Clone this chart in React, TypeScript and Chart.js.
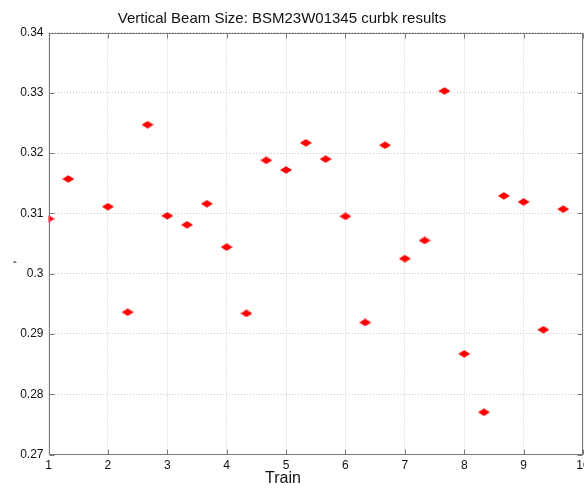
import { useEffect, useRef } from "react";
import { Chart, registerables } from "chart.js";

Chart.register(...registerables);

const trainX = [
  1, 1.333, 2, 2.333, 2.667, 3, 3.333, 3.667, 4, 4.333, 4.667, 5, 5.333,
  5.667, 6, 6.333, 6.667, 7, 7.333, 7.667, 8, 8.333, 8.667, 9, 9.333, 9.667,
];
const beamSize = [
  0.3091, 0.3157, 0.3111, 0.2936, 0.3247, 0.3096, 0.3081, 0.3116, 0.3044,
  0.2934, 0.3188, 0.3172, 0.3217, 0.319, 0.3095, 0.2919, 0.3213, 0.3025,
  0.3055, 0.3303, 0.2867, 0.277, 0.3129, 0.3119, 0.2907, 0.3107,
];
const xTicks = [1, 2, 3, 4, 5, 6, 7, 8, 9, 10];
const yTicks = [0.27, 0.28, 0.29, 0.3, 0.31, 0.32, 0.33, 0.34];
const titleText = "Vertical Beam Size: BSM23W01345 curbk results";
const xLabel = "Train";
const yLabel = ",";

const FONT = "'Liberation Sans', Arial, Helvetica, sans-serif";

function makeMarker(): HTMLCanvasElement {
  const c = document.createElement("canvas");
  c.width = 12;
  c.height = 8;
  const g = c.getContext("2d")!;
  g.fillStyle = "#ff0000";
  g.beginPath();
  g.moveTo(0, 4);
  g.lineTo(6, 0.3);
  g.lineTo(12, 4);
  g.lineTo(6, 7.7);
  g.closePath();
  g.fill();
  return c;
}

const framePlugin = {
  id: "frame",
  afterDraw(chart: any) {
    const { ctx, chartArea } = chart;
    const { left, right, top, bottom } = chartArea;
    const xs = chart.scales.x;
    const ys = chart.scales.y;
    ctx.save();
    ctx.strokeStyle = "#7a7a7a";
    ctx.lineWidth = 1;
    const L = Math.round(left) + 0.5;
    const R = Math.round(right) - 0.5;
    const T = Math.round(top) + 0.5;
    const B = Math.round(bottom) - 0.5;
    ctx.strokeRect(L, T, R - L, B - T);
    ctx.beginPath();
    xTicks.forEach((v) => {
      const px = Math.round(xs.getPixelForValue(v)) + 0.5;
      ctx.moveTo(px, B);
      ctx.lineTo(px, B - 5);
      ctx.moveTo(px, T);
      ctx.lineTo(px, T + 5);
    });
    yTicks.forEach((v) => {
      const py = Math.round(ys.getPixelForValue(v)) + 0.5;
      ctx.moveTo(L, py);
      ctx.lineTo(L + 5, py);
      ctx.moveTo(R, py);
      ctx.lineTo(R - 5, py);
    });
    ctx.stroke();

    ctx.fillStyle = "#111";
    ctx.textAlign = "center";
    ctx.textBaseline = "alphabetic";
    ctx.font = `15px ${FONT}`;
    ctx.fillText(titleText, 282, 23);
    ctx.font = `16px ${FONT}`;
    ctx.fillText(xLabel, 283, 483);

    ctx.save();
    ctx.translate(15, 262);
    ctx.rotate(-Math.PI / 2);
    ctx.font = `12px ${FONT}`;
    ctx.fillText(yLabel, 0, 0);
    ctx.restore();
    ctx.restore();
  },
};

export default function App() {
  const ref = useRef<HTMLCanvasElement | null>(null);

  useEffect(() => {
    if (!ref.current) return;
    const marker = makeMarker();
    const chart = new Chart(ref.current, {
      type: "scatter",
      data: {
        datasets: [
          {
            data: trainX.map((x, i) => ({ x, y: beamSize[i] })),
            pointStyle: marker as any,
            pointRadius: 6,
            backgroundColor: "#ff0000",
            borderColor: "#ff0000",
          },
        ],
      },
      options: {
        responsive: false,
        animation: false,
        devicePixelRatio: 1,
        layout: { padding: { left: 0, right: 17, top: 32.5, bottom: 0 } },
        plugins: {
          legend: { display: false },
          title: { display: false },
          tooltip: { enabled: false },
        },
        scales: {
          x: {
            type: "linear",
            min: 1,
            max: 10,
            afterBuildTicks: (scale: any) => {
              scale.ticks = xTicks.map((v) => ({ value: v }));
            },
            afterFit: (scale: any) => {
              scale.height = 36.5;
              scale.paddingLeft = 0;
              scale.paddingRight = 0;
            },
            ticks: {
              padding: 4,
              color: "#111",
              font: { family: FONT, size: 12 },
              callback: (v: any) => String(v),
              maxRotation: 0,
              autoSkip: false,
            },
            grid: {
              color: "#c8c8c8",
              lineWidth: 1,
              drawTicks: false,
            },
            border: { display: false, dash: [1, 2] },
          },
          y: {
            type: "linear",
            min: 0.27,
            max: 0.34,
            afterBuildTicks: (scale: any) => {
              scale.ticks = yTicks.map((v) => ({ value: v }));
            },
            afterFit: (scale: any) => {
              scale.width = 48.5;
              scale.paddingTop = 0;
              scale.paddingBottom = 0;
            },
            ticks: {
              padding: 5,
              color: "#111",
              font: { family: FONT, size: 12 },
              callback: (v: any) => String(Number(Number(v).toFixed(2))),
              autoSkip: false,
            },
            grid: {
              color: "#c8c8c8",
              lineWidth: 1,
              drawTicks: false,
            },
            border: { display: false, dash: [1, 2] },
          },
        },
      },
      plugins: [framePlugin],
    });
    return () => chart.destroy();
  }, []);

  return (
    <div
      style={{
        position: "fixed",
        left: 0,
        top: 0,
        width: 584,
        height: 491,
        overflow: "hidden",
        background: "#fff",
      }}
    >
      <canvas
        ref={ref}
        width={600}
        height={491}
        style={{ display: "block", width: 600, height: 491 }}
      />
    </div>
  );
}
